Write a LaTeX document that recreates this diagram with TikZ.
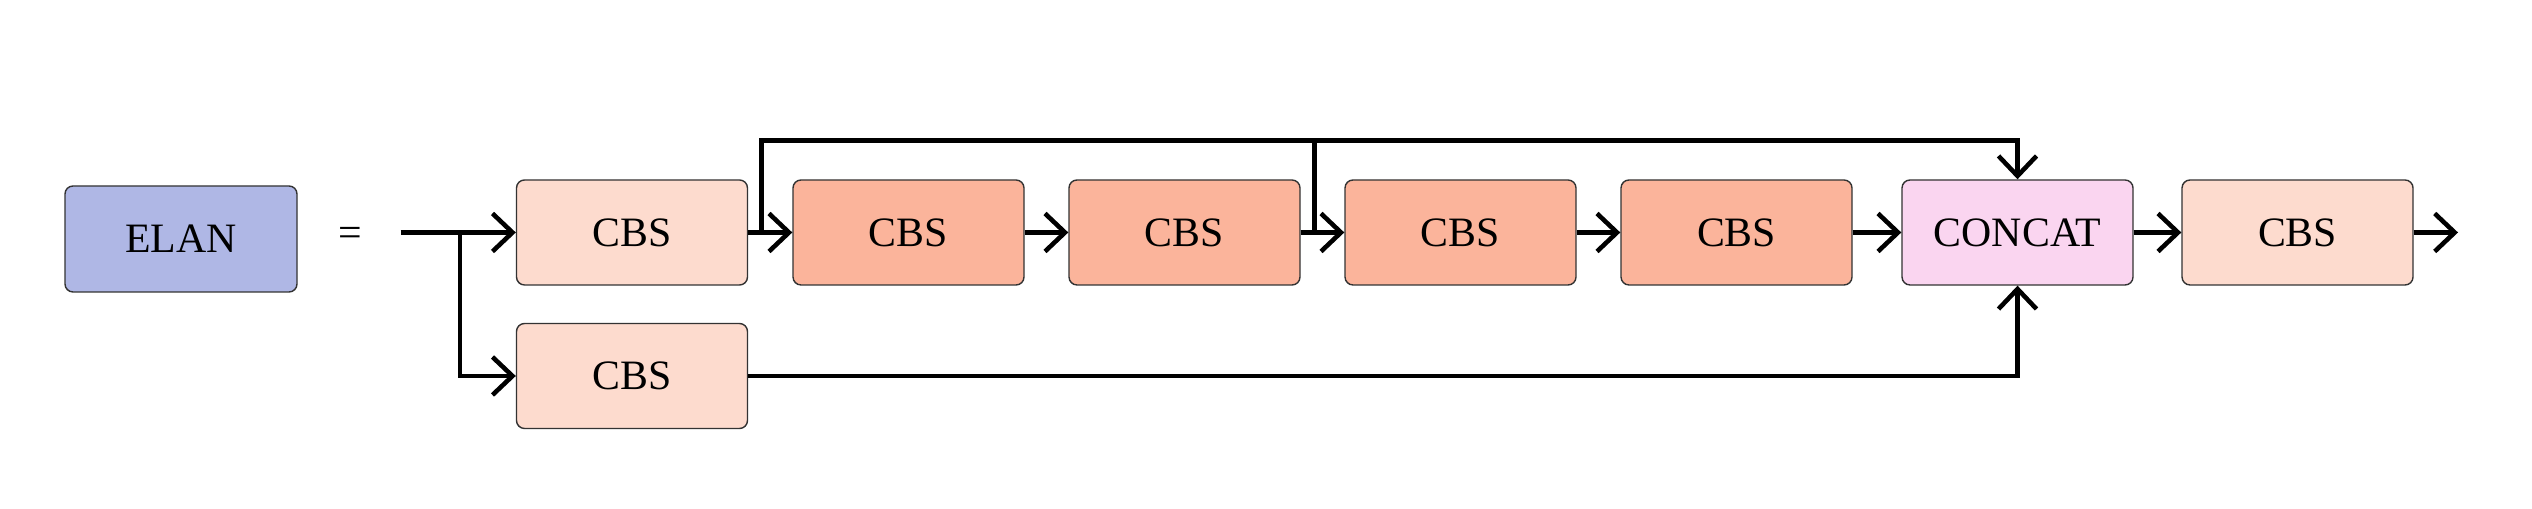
\documentclass[tikz,border=0pt]{standalone}
\usepackage{fontspec}
\setmainfont{Liberation Serif}
\usetikzlibrary{arrows.meta,calc}
\definecolor{elanc}{RGB}{175,183,229}
\definecolor{cbslight}{RGB}{253,219,206}
\definecolor{cbsdark}{RGB}{251,180,155}
\definecolor{catc}{RGB}{250,213,240}
\begin{document}
\begin{tikzpicture}[
 box/.style={draw=black!80, line width=0.4pt, rounded corners=0.08cm, minimum width=2.31cm, minimum height=1.05cm, inner sep=0pt, font=\fontsize{11.9}{14}\selectfont},
 conn/.style={line width=1.3pt, -{Straight Barb[length=0.2cm,width=0.38cm,line width=1.3pt]}},
 plain/.style={line width=1.3pt}]
\useasboundingbox (0,0) rectangle (25.32,5.09);
\node[box, fill=elanc, minimum height=1.06cm, minimum width=2.32cm] (elan) at (1.81,2.70) {ELAN};
\node[font=\fontsize{11.9}{14}\selectfont] (eq) at (3.50,2.72) {=};
\node[box, fill=cbslight] (c1) at (6.32,2.765) {CBS};
\node[box, fill=cbslight] (c0) at (6.32,1.33) {CBS};
\node[box, fill=cbsdark] (c2) at (9.085,2.765) {CBS};
\node[box, fill=cbsdark] (c3) at (11.845,2.765) {CBS};
\node[box, fill=cbsdark] (c4) at (14.605,2.765) {CBS};
\node[box, fill=cbsdark] (c5) at (17.365,2.765) {CBS};
\node[box, fill=catc] (cat) at (20.175,2.765) {CONCAT};
\node[box, fill=cbslight] (c6) at (22.975,2.765) {CBS};
\coordinate (in) at (4.005,2.765);
\coordinate (br) at (4.60,2.765);
\coordinate (out) at (24.58,2.765);
\coordinate (s1) at ($(c1.east)+(0.13,0)$);
\coordinate (s2) at ($(c3.east)+(0.14,0)$);
\coordinate (top) at (10,3.685);
\draw[conn] (in) -- (c1);
\draw[conn] (br) |- (c0.west);
\draw[conn] (c1) -- (c2);
\draw[conn] (c2) -- (c3);
\draw[conn] (c3) -- (c4);
\draw[conn] (c4) -- (c5);
\draw[conn] (c5) -- (cat);
\draw[conn] (cat) -- (c6);
\draw[conn] (c6) -- (out);
\draw[conn] (c0.east) -| (cat.south);
\draw[conn] (s1) -- (s1 |- top) -| (cat.north);
\draw[plain] (s2) -- (s2 |- top);
\end{tikzpicture}
\end{document}
